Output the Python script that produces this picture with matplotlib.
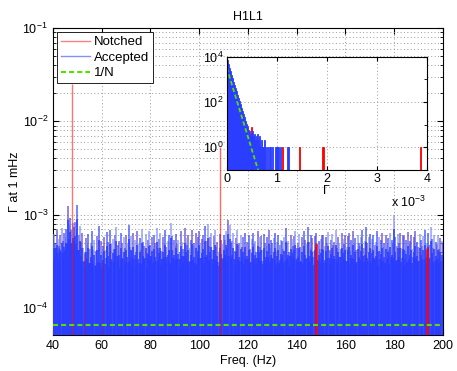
import numpy as np
import matplotlib
matplotlib.use('Agg')
import matplotlib.pyplot as plt
from matplotlib.lines import Line2D
from matplotlib.ticker import FixedLocator, NullFormatter

plt.rcParams['font.family'] = ['Liberation Sans', 'DejaVu Sans']
plt.rcParams['mathtext.fontset'] = 'custom'
plt.rcParams['mathtext.rm'] = 'Liberation Sans'
plt.rcParams['mathtext.it'] = 'Liberation Sans:italic'
plt.rcParams['font.size'] = 9

# ---- main spectrum (values in units of 1e-4), one spike every 0.5 Hz from 40 to 200 Hz
spike_e4 = [
    4.5, 6.2, 5.0, 6.8, 5.5, 4.6, 6.0, 7.1, 5.2, 6.4, 5.8, 7.0, 12.5, 7.8, 9.2, 6.9, 8.1, 7.4, 8.4, 6.9,
    12.8, 6.0, 7.5, 5.1, 6.3, 4.4, 3.9, 5.6, 4.8, 6.2, 4.3, 5.0, 6.6, 4.2, 5.3, 4.1, 5.9, 4.4, 7.6, 5.2,
    3.8,
    4.6, 5.8, 4.2, 6.5, 5.1, 3.9, 6.9, 4.8, 5.5, 4.3, 6.1, 7.4, 4.7, 5.2, 3.8, 6.3, 4.9, 5.7, 4.4, 6.0,
    5.0, 7.8, 4.5, 5.9, 4.1, 6.4, 5.3, 4.0, 6.7, 4.8, 5.6, 4.2, 7.0, 5.1, 4.6, 6.2, 3.9, 5.4, 6.6, 4.7,
    5.8, 4.3, 6.1, 5.0, 7.2, 4.4, 5.5, 6.3, 4.1, 5.7, 4.9, 6.8, 4.5, 5.2, 6.0, 4.2, 8.1, 5.9, 5.3, 4.6,
    6.2, 4.8, 5.4, 4.0, 6.6, 5.1, 4.3, 7.1, 5.6, 4.7, 6.0, 4.4, 5.3, 6.9, 4.6, 5.0, 6.3, 4.1, 5.8, 6.7,
    4.9, 5.5, 6.1, 4.3, 7.5, 5.2, 8.0, 4.6, 5.7, 6.4, 4.2, 5.9, 6.8, 4.5, 5.1, 4.0, 6.2, 5.4, 4.8, 6.0,
    5.3, 6.7, 4.4, 8.8, 7.8, 4.9, 5.2, 6.3, 4.1, 5.6, 6.9, 4.7, 5.0, 6.1, 4.5, 5.7, 4.2, 6.4, 5.1, 4.8,
    6.0, 4.3, 5.5, 6.4, 4.8, 5.2, 4.0, 6.6, 5.7, 4.5, 5.9, 4.2, 6.2, 5.0, 4.6, 5.8, 6.9, 4.4, 5.3, 4.9,
    5.6, 6.3, 4.1, 5.1, 6.0, 4.7, 5.4, 5.2, 4.3, 5.8, 7.2, 4.9, 5.2, 4.0, 6.1, 5.5, 4.6, 5.9, 6.7, 4.4,
    5.0, 6.2, 4.5, 5.7, 4.2, 6.6, 5.3, 4.8, 7.3, 5.1, 4.4, 6.0, 5.6, 4.1, 5.9, 6.4, 4.7, 5.2, 4.3, 5.5,
    6.1, 6.0, 4.6, 5.8, 4.9, 6.5, 4.2, 5.4, 6.2, 4.7, 5.1, 6.8, 4.4, 5.7, 5.0, 4.3, 6.3, 5.5, 4.8, 6.0,
    4.5, 5.9, 6.4, 4.1, 5.3, 6.7, 4.8, 5.6, 4.2, 6.1, 5.0, 4.6, 5.8, 6.9, 4.4, 5.2, 7.3, 4.9, 5.7, 6.2,
    4.3, 5.5, 6.0, 4.7, 5.1, 6.6, 4.0, 5.8, 5.4, 6.3, 4.5, 5.0, 6.1, 4.8, 5.6, 4.2, 6.4, 5.3, 4.9, 10.0,
    5.7, 4.6, 6.2, 5.0, 6.3, 4.4, 6.1, 5.9, 4.1, 5.4, 6.5, 4.8, 5.2, 6.0, 4.3, 5.7, 6.6, 4.9, 5.1, 4.5,
    6.2, 5.3, 4.6, 5.9, 6.8, 4.2, 5.0, 6.4, 4.7, 7.4, 5.5, 4.4, 6.1, 5.1, 4.8, 6.0, 4.3, 5.6, 5.2, 4.9,
]
spike_freq = np.linspace(40, 200, len(spike_e4))

# solid body of the spectrum, every 2 Hz (units of 1e-4)
body_e4 = [
    4.2, 4.4, 4.0, 4.8, 5.0, 4.2, 3.2, 3.0, 3.3, 2.8, 3.0, 3.4, 3.2, 3.6, 3.3, 3.1, 3.5, 3.3, 3.0, 3.4,
    3.6, 3.2, 3.3, 3.5, 3.1, 3.4, 3.3, 3.6, 3.2, 3.0, 3.4, 3.5, 3.2, 3.3, 3.1, 3.4, 3.6, 3.3, 3.2, 3.5,
    3.3, 3.1, 3.4, 3.2, 3.5, 3.3, 3.0, 3.4, 3.2, 3.6, 3.3, 3.1, 3.4, 3.5, 3.2, 3.3, 3.0, 3.4, 3.3, 3.5,
    3.2, 3.4, 3.1, 3.3, 3.6, 3.2, 3.4, 3.3, 3.0, 3.5, 3.2, 3.3, 3.4, 3.1, 3.5, 3.2, 3.3, 3.4, 3.2, 3.3,
    3.2,
]
body_freq = np.linspace(40, 200, len(body_e4))

notch_freq = [47.9, 52.9, 60.0, 108.5, 147.9, 193.3]
notch_val = [2.5e-2, 3.8e-4, 3.2e-4, 5.3e-3, 4.9e-4, 4.4e-4]
inv_n = 6.5e-5

# ---- inset histogram (Gamma in units of 1e-3, bins of 0.02e-3)
bin_w = 0.02
acc_counts = [
    7000, 4600, 3200, 2300, 1600, 1150, 800, 580, 420, 300, 215, 150, 110, 78, 55, 40, 29, 21, 15, 11,
    9, 6, 5, 4, 3, 5, 3, 4, 2, 3, 4, 2, 3, 1, 2, 1, 1, 2, 1, 0, 1, 0, 1, 1, 0, 1, 0, 0, 1, 1,
    1, 1, 0, 1, 0, 0, 0, 0, 0, 0, 1, 1, 0,
]
notch_gamma = [0.49, 1.11, 1.45, 1.91, 1.93, 3.87]
notch_counts = [8, 1, 1, 1, 1, 1]
fit_gamma = [0.0, 0.7]
fit_counts = [3300, 0.03]

BLUE = '#2a3cff'
GREEN = '#55e000'
GRID = dict(linestyle=(0, (1, 2.5)), color='#9a9a9a', lw=0.7)
ylow = 5.1e-5

fig = plt.figure(figsize=(4.57, 3.71), dpi=100)
ax = fig.add_axes([0.116, 0.097, 0.853, 0.827])
ax.set_yscale('log')
ax.set_axisbelow(True)

ax.fill_between(body_freq, ylow, np.array(body_e4) * 1e-4, step='mid', color=BLUE, lw=0, zorder=2)
spike_cols = [('#6048d0' if i % 3 == 0 else ('#7f90ff' if i % 3 == 1 else '#3448ff'))
              for i in range(len(spike_e4))]
ax.vlines(spike_freq, ylow, np.array(spike_e4) * 1e-4, colors=spike_cols, lw=1.1, alpha=0.85, zorder=3)
ax.vlines(spike_freq, ylow, np.array(spike_e4) * 0.7e-4, colors=BLUE, lw=1.1, zorder=3)
notch_lw = [1.0, 0.8, 0.8, 1.0, 1.8, 1.8]
notch_alpha = [0.55, 0.35, 0.35, 0.6, 0.9, 0.9]
for f, v, lw, a in zip(notch_freq, notch_val, notch_lw, notch_alpha):
    ax.vlines(f, ylow, v, colors='red', lw=lw, alpha=a, zorder=4)
ax.axhline(inv_n, color=GREEN, lw=1.5, linestyle=(0, (2.4, 1.5)), zorder=5)

ax.set_xlim(40, 200)
ax.set_ylim(ylow, 0.1)
ax.set_xticks(range(40, 201, 20))
ax.grid(True, which='major', **GRID)
ax.grid(True, which='minor', axis='y', **GRID)
ax.tick_params(which='both', direction='in', top=True, right=True)
ax.tick_params(which='major', length=4)
ax.tick_params(which='minor', length=2)
ax.set_xlabel('Freq. (Hz)', labelpad=2)
ax.set_ylabel('Γ at 1 mHz', labelpad=1)
ax.set_title('H1L1', fontsize=9, pad=6)

handles = [Line2D([], [], color='#ff8080', lw=1),
           Line2D([], [], color='#8090ff', lw=1),
           Line2D([], [], color=GREEN, lw=1.5, linestyle=(0, (2.4, 1.5)))]
leg = ax.legend(handles, ['Notched', 'Accepted', '1/N'], loc='upper left', fontsize=9.5,
                fancybox=False, framealpha=1, edgecolor='black', borderaxespad=0.3,
                handlelength=2.2, handletextpad=0.3, labelspacing=0.25, borderpad=0.3)
leg.get_frame().set_linewidth(0.6)
leg.set_zorder(10)

# ---- inset
ins = fig.add_axes([0.496, 0.542, 0.438, 0.305])
ins.set_yscale('log')
ins.set_axisbelow(True)
acc_centers = (np.arange(len(acc_counts)) + 0.5) * bin_w
acc = np.array(acc_counts, dtype=float)
keep = acc > 0
ins.bar(np.array(notch_gamma), notch_counts, width=bin_w, color='red', edgecolor='red', lw=0.6)
ins.bar(acc_centers[keep], acc[keep], width=bin_w, color=BLUE, edgecolor=BLUE, lw=0.6)
ins.plot(fit_gamma, fit_counts, linestyle=(0, (2.4, 1.5)), color=GREEN, lw=1.3)
ins.set_xlim(0, 4)
ins.set_ylim(0.1, 1e4)
ins.set_xticks([0, 1, 2, 3, 4])
ins.yaxis.set_major_locator(FixedLocator([1, 100, 1e4]))
ins.yaxis.set_minor_locator(FixedLocator([0.1, 10, 1000]))
ins.yaxis.set_minor_formatter(NullFormatter())
ins.grid(True, which='major', **GRID)
ins.tick_params(which='both', direction='in', top=True, right=True, pad=2)
ins.tick_params(which='major', length=3)
ins.tick_params(which='minor', length=2)
ins.set_xlabel('Γ', labelpad=0)
ins.text(0.91, -0.29, r'x 10$^{-3}$', transform=ins.transAxes, ha='center', va='center')

fig.savefig('out.png', dpi=100)
